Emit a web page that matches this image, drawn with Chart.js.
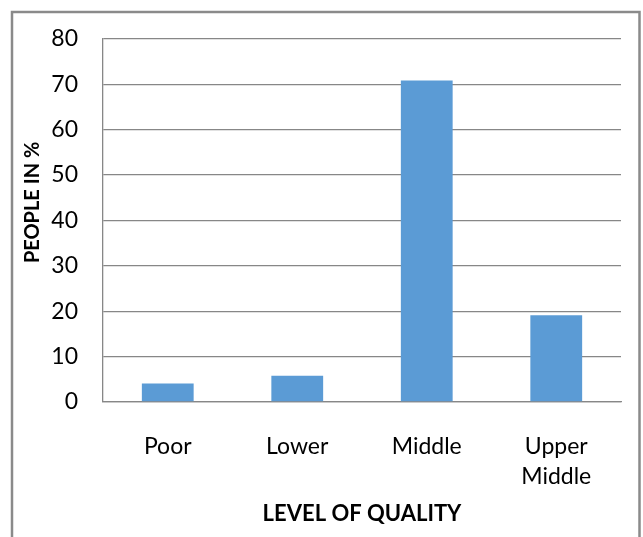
<!DOCTYPE html>
<html>
<head>
<meta charset="utf-8">
<script src="https://cdn.jsdelivr.net/npm/chart.js@4/dist/chart.umd.min.js"></script>
<style>
  html, body { margin: 0; padding: 0; background: #ffffff; }
  #wrap { width: 643px; height: 537px; position: relative; }
</style>
</head>
<body>
<div id="wrap"><canvas id="chart" width="643" height="537"></canvas></div>
<script>
// Share of people by level of quality (%)
const categories = [['Poor'], ['Lower'], ['Middle'], ['Upper', 'Middle']];
const peoplePercent = [4.1, 5.8, 70.8, 19.1];
const yTicks = [0, 10, 20, 30, 40, 50, 60, 70, 80];
const xTitle = 'LEVEL OF QUALITY';
const yTitle = 'PEOPLE IN %';

const FONT = 'Lato, "Open Sans", sans-serif';
const GRID = '#878787';

// Grey frame around the whole chart object
const framePlugin = {
  id: 'frame',
  beforeDraw(chart) {
    const ctx = chart.ctx;
    ctx.save();
    ctx.fillStyle = '#ffffff';
    ctx.fillRect(0, 0, chart.width, chart.height);
    ctx.strokeStyle = '#8a8a8a';
    ctx.lineWidth = 2.5;
    ctx.strokeRect(12, 12, 627.5, chart.height + 20);
    ctx.restore();
  }
};

// Vertical axis title, sitting slightly above the plot's midpoint
const yTitlePlugin = {
  id: 'yTitle',
  afterDraw(chart) {
    const ctx = chart.ctx;
    const area = chart.chartArea;
    ctx.save();
    ctx.translate(33, (area.top + area.bottom) / 2 - 18);
    ctx.rotate(-Math.PI / 2);
    ctx.font = 'bold 20px ' + FONT;
    ctx.fillStyle = '#000000';
    ctx.textAlign = 'center';
    ctx.textBaseline = 'middle';
    ctx.fillText(yTitle, 0, 0);
    ctx.restore();
  }
};

new Chart(document.getElementById('chart'), {
  type: 'bar',
  data: {
    labels: categories,
    datasets: [{
      data: peoplePercent,
      backgroundColor: '#5b9bd5',
      borderWidth: 0,
      categoryPercentage: 1.0,
      barPercentage: 0.4
    }]
  },
  options: {
    responsive: false,
    animation: false,
    devicePixelRatio: 1,
    layout: { padding: { top: 35, right: 22, left: 0, bottom: 0 } },
    plugins: {
      legend: { display: false },
      tooltip: { enabled: false },
      title: { display: false }
    },
    scales: {
      x: {
        grid: { display: false, drawTicks: false },
        border: { display: true, color: GRID, width: 1.3 },
        ticks: {
          color: '#000000',
          font: { family: FONT, size: 23, lineHeight: 1.32 },
          padding: 29,
          maxRotation: 0,
          autoSkip: false
        },
        title: {
          display: true,
          text: xTitle,
          color: '#000000',
          font: { family: FONT, size: 22, weight: 'bold', lineHeight: 1.2 },
          padding: { top: 0, bottom: 10 }
        },
        afterFit(scale) { scale.height = 135; }
      },
      y: {
        min: 0,
        max: 80,
        afterBuildTicks(scale) { scale.ticks = yTicks.map(v => ({ value: v })); },
        grid: { color: GRID, lineWidth: 1.3, drawTicks: false },
        border: { display: true, color: GRID, width: 1.3 },
        ticks: {
          color: '#000000',
          font: { family: FONT, size: 23 },
          padding: 25
        },
        afterFit(scale) { scale.width = 103; }
      }
    }
  },
  plugins: [framePlugin, yTitlePlugin]
});
</script>
</body>
</html>
